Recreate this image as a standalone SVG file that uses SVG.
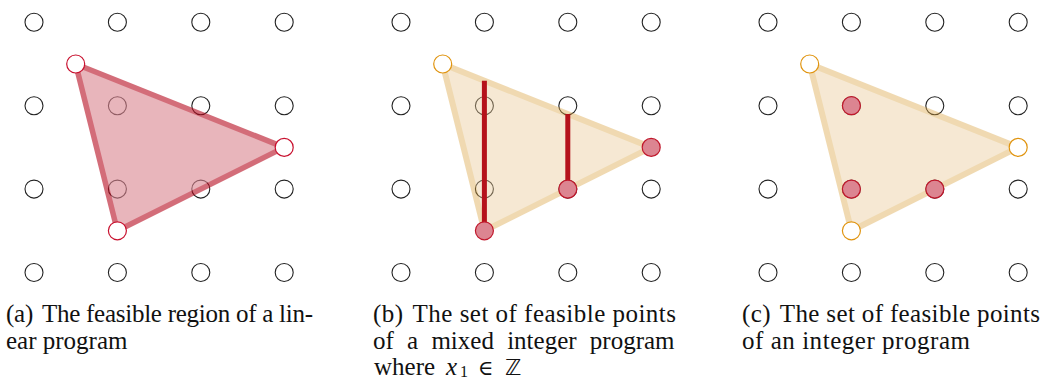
<svg xmlns="http://www.w3.org/2000/svg" xmlns:xlink="http://www.w3.org/1999/xlink" width="1045" height="380" viewBox="0 0 1045 380">
<style>
.g{fill:#ffffff;stroke:#222222;stroke-width:1.1}
.vr{fill:#ffffff;stroke:#c8102e;stroke-width:1.2}
.vo{fill:#ffffff;stroke:#e0940f;stroke-width:1.2}
.pt{fill:#dc8591;stroke:#c0182c;stroke-width:1.2}
.lpr{fill:#da848f;stroke:#b70d21;stroke-width:5.5;stroke-linejoin:round}
.ltan{fill:#e9c894;stroke:#daa33f;stroke-width:6;stroke-linejoin:round}
.seg{stroke:#b5121b;stroke-width:5;fill:none}
.cap{font-family:"Liberation Serif","DejaVu Serif",serif;font-size:25px;fill:#111111}
</style>
<defs>
<g id="grid">
<circle class="g" cx="34" cy="22.3" r="9"/><circle class="g" cx="117.4" cy="22.3" r="9"/><circle class="g" cx="200.8" cy="22.3" r="9"/><circle class="g" cx="284.2" cy="22.3" r="9"/>
<circle class="g" cx="34" cy="105.7" r="9"/><circle class="g" cx="117.4" cy="105.7" r="9"/><circle class="g" cx="200.8" cy="105.7" r="9"/><circle class="g" cx="284.2" cy="105.7" r="9"/>
<circle class="g" cx="34" cy="189.1" r="9"/><circle class="g" cx="117.4" cy="189.1" r="9"/><circle class="g" cx="200.8" cy="189.1" r="9"/><circle class="g" cx="284.2" cy="189.1" r="9"/>
<circle class="g" cx="34" cy="272.5" r="9"/><circle class="g" cx="117.4" cy="272.5" r="9"/><circle class="g" cx="200.8" cy="272.5" r="9"/><circle class="g" cx="284.2" cy="272.5" r="9"/>
</g>
</defs>

<g id="panel-a">
<use xlink:href="#grid"/>
<g opacity="0.6"><polygon class="lpr" points="75.7,64 284.2,147.4 117.4,230.8"/></g>
<circle class="vr" cx="75.7" cy="64" r="9"/>
<circle class="vr" cx="284.2" cy="147.4" r="9"/>
<circle class="vr" cx="117.4" cy="230.8" r="9"/>
</g>

<g id="panel-b" transform="translate(367,0)">
<use xlink:href="#grid"/>
<g opacity="0.4"><polygon class="ltan" points="75.7,64 284.2,147.4 117.4,230.8"/></g>
<line class="seg" x1="117.4" y1="80.7" x2="117.4" y2="230.8"/>
<line class="seg" x1="200.8" y1="114" x2="200.8" y2="189.1"/>
<circle class="vo" cx="75.7" cy="64" r="9"/>
<circle class="pt" cx="117.4" cy="230.8" r="9"/>
<circle class="pt" cx="200.8" cy="189.1" r="9"/>
<circle class="pt" cx="284.2" cy="147.4" r="9"/>
</g>

<g id="panel-c" transform="translate(734,0)">
<use xlink:href="#grid"/>
<g opacity="0.4"><polygon class="ltan" points="75.7,64 284.2,147.4 117.4,230.8"/></g>
<circle class="pt" cx="117.4" cy="105.7" r="9"/>
<circle class="pt" cx="117.4" cy="189.1" r="9"/>
<circle class="pt" cx="200.8" cy="189.1" r="9"/>
<circle class="vo" cx="75.7" cy="64" r="9"/>
<circle class="vo" cx="284.2" cy="147.4" r="9"/>
<circle class="vo" cx="117.4" cy="230.8" r="9"/>
</g>

<g id="captions">
<text class="cap" x="6" y="321.5" textLength="307">(a)<tspan dx="9">The feasible region of a lin-</tspan></text>
<text class="cap" x="6" y="348.5">ear program</text>
<text class="cap" x="373" y="321.5" textLength="303">(b)<tspan dx="9">The set of feasible points</tspan></text>
<text class="cap" x="373" y="348.5" word-spacing="7">of a mixed integer program</text>
<text class="cap" x="374" y="374.5">where<tspan x="446" font-style="italic">x</tspan><tspan x="460" font-size="16" dy="2.5">1</tspan><tspan x="478" dy="-2.5" font-family="'DejaVu Serif','DejaVu Sans',serif" font-size="21">∈</tspan><tspan x="505" font-family="'DejaVu Sans',sans-serif" font-size="22">ℤ</tspan></text>
<text class="cap" x="742" y="321.5" textLength="298">(c)<tspan dx="9">The set of feasible points</tspan></text>
<text class="cap" x="742" y="348.5" textLength="228">of an integer program</text>
</g>
</svg>
